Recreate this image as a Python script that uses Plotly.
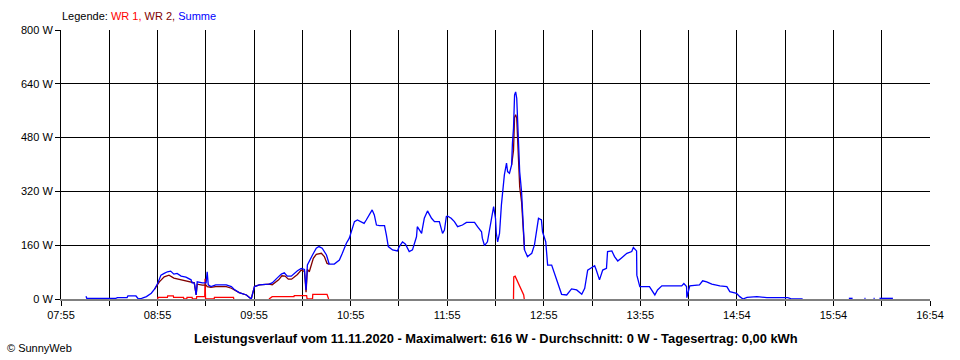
import plotly.graph_objects as go

# ---------------- data ----------------
X_TICK_LABELS = ["07:55", "", "08:55", "", "09:55", "", "10:55", "", "11:55", "",
                 "12:55", "", "13:55", "", "14:54", "", "15:54", "", "16:54"]
X_START = "07:55:00"
X_END = "16:54:00"
Y_TICKS = [0, 160, 320, 480, 640, 800]
Y_TICK_LABELS = ["0 W", "160 W", "320 W", "480 W", "640 W", "800 W"]

# Summe (blue)
summe_time = [
    "08:10:30", "08:11:00", "08:29:00", "08:30:00", "08:36:00", "08:36:30", "08:41:30", "08:43:00",
    "08:45:00", "08:48:00", "08:51:00", "08:53:00", "08:55:00", "08:56:00", "08:57:00", "08:59:00",
    "09:01:00", "09:03:00", "09:05:00", "09:07:00", "09:09:30", "09:12:30", "09:15:40", "09:16:20",
    "09:17:40", "09:18:50", "09:19:30", "09:22:40", "09:25:00", "09:25:40", "09:26:20", "09:28:00",
    "09:31:00", "09:37:30", "09:40:40", "09:42:20", "09:45:30", "09:50:00", "09:53:00", "09:55:00",
    "09:58:00", "10:04:00", "10:06:00", "10:09:00", "10:11:40", "10:13:30", "10:15:20", "10:17:50",
    "10:19:40", "10:21:40", "10:24:00", "10:26:00", "10:27:00", "10:27:50", "10:31:00", "10:33:20",
    "10:35:00", "10:37:00", "10:39:40", "10:41:20", "10:44:30", "10:47:40", "10:49:30", "10:52:00",
    "10:53:50", "10:57:00", "10:58:50", "11:01:20", "11:03:00", "11:04:20", "11:07:30", "11:08:00",
    "11:09:20", "11:10:40", "11:12:30", "11:15:40", "11:16:50", "11:18:00", "11:20:40", "11:23:40",
    "11:24:50", "11:26:50", "11:28:40", "11:31:00", "11:33:00", "11:35:30", "11:36:00", "11:38:40",
    "11:39:00", "11:40:20", "11:42:20", "11:44:50", "11:46:40", "11:49:40", "11:51:40", "11:52:50",
    "11:54:00", "11:54:40", "11:57:00", "11:59:00", "12:01:00", "12:04:00", "12:06:30", "12:11:30",
    "12:13:20", "12:15:50", "12:16:20", "12:17:40", "12:19:30", "12:22:00", "12:23:20", "12:24:30",
    "12:25:00", "12:25:50", "12:27:00", "12:28:10", "12:29:00", "12:30:00", "12:31:20", "12:32:00",
    "12:33:10", "12:34:30", "12:35:00", "12:35:40", "12:36:20", "12:37:00", "12:37:40", "12:38:10",
    "12:38:50", "12:39:30", "12:40:40", "12:41:20", "12:42:00", "12:42:30", "12:44:20", "12:47:00",
    "12:48:40", "12:50:00", "12:51:10", "12:53:00", "12:53:40", "12:55:40", "12:56:50", "12:59:20",
    "13:01:00", "13:04:20", "13:05:30", "13:08:40", "13:11:40", "13:14:50", "13:18:00", "13:19:50",
    "13:21:40", "13:24:00", "13:26:00", "13:27:00", "13:29:00", "13:31:00", "13:33:20", "13:34:00",
    "13:36:40", "13:38:20", "13:40:20", "13:42:50", "13:46:00", "13:49:00", "13:50:00", "13:52:00",
    "13:52:10", "13:54:00", "13:57:00", "14:00:00", "14:03:20", "14:05:00", "14:07:40", "14:12:40",
    "14:20:00", "14:21:20", "14:23:00", "14:23:10", "14:25:00", "14:31:00", "14:33:00", "14:35:30",
    "14:38:40", "14:43:40", "14:48:00", "14:49:50", "14:54:00", "14:56:00", "14:58:00", "15:00:30",
    "15:06:40", "15:12:50", "15:19:00", "15:25:50", "15:28:20", "15:35:00",
    None, "16:03:40", "16:06:00", None, "16:13:20", "16:14:00", None, "16:19:00", "16:19:40",
    None, "16:22:40", "16:31:00",
]
summe_w = [
    8, 2, 2, 4, 4, 9, 9, 0,
    2, 7, 17, 29, 47, 62, 71, 76,
    81, 83, 74, 76, 68, 65, 57, 48,
    48, 12, 51, 48, 48, 81, 42, 37,
    42, 42, 37, 29, 19, 12, 0, 37,
    42, 44, 48, 62, 74, 78, 68, 68,
    76, 84, 91, 88, 27, 101, 131, 151,
    156, 151, 131, 104, 104, 116, 136, 166,
    181, 230, 235, 228, 225, 235, 262, 265,
    250, 220, 218, 218, 190, 156, 146, 143,
    156, 170, 163, 141, 146, 185, 215, 195,
    205, 240, 262, 240, 230, 230, 195, 205,
    245, 247, 240, 230, 215, 220, 228, 228,
    215, 200, 181, 159, 170, 245, 275, 240,
    195, 170, 195, 280, 319, 369, 404, 379,
    374, 399, 463, 508, 607, 616, 597, 547,
    468, 379, 319, 260, 170, 146, 126, 136,
    161, 210, 240, 235, 200, 170, 101, 101,
    76, 27, 14, 12, 30, 27, 14, 32,
    86, 93, 99, 86, 57, 86, 91, 141,
    143, 126, 113, 123, 136, 141, 153, 143,
    71, 37, 37, 37, 12, 27, 39, 39,
    39, 46, 37, 4, 39, 42, 54, 51,
    44, 39, 37, 22, 17, 7, 0, 5,
    7, 4, 5, 4, 0, 0,
    None, 2, 2, None, 2, 2, None, 2, 2,
    None, 2, 2,
]

# WR 1 (red)
wr1_time = [
    "08:55:00", "08:55:10", "09:01:00", "09:01:10", "09:04:40", "09:04:50", "09:11:00", "09:11:10",
    "09:13:00", "09:13:10", "09:16:20", "09:16:30", "09:19:00", "09:19:10", "09:24:10", "09:24:20",
    "09:24:40", "09:30:00", "09:30:10", "09:42:00", "09:42:10", None,
    "10:04:00", "10:06:00", "10:19:30", "10:19:40", "10:27:20", "10:27:40", "10:31:00", "10:31:10",
    "10:40:00", "10:41:00", None,
    "12:35:40", "12:35:50", "12:36:40", "12:38:20", "12:39:50", "12:41:10", "12:42:00", "12:42:20",
]
wr1_w = [
    0, 5, 5, 9, 9, 5, 5, 0,
    0, 5, 5, 0, 0, 7, 7, 60,
    0, 0, 5, 5, 0, None,
    0, 7, 7, 10, 10, 0, 0, 14,
    14, 0, None,
    0, 66, 68, 51, 37, 22, 12, 0,
]

# WR 2 (dark red) - only where it separates from the blue sum line
wr2_time = [
    "08:53:00", "08:55:00", "08:56:00", "08:59:00", "09:02:00", "09:05:00", "09:08:00", "09:13:00",
    "09:16:20", "09:17:40", "09:18:50", "09:19:30", "09:22:40", "09:25:00", "09:25:40", "09:28:00",
    "09:31:00", "09:37:30", "09:40:40", "09:42:20", "09:45:30", "09:50:00", "09:53:00", "09:55:00",
    "09:58:00", "10:04:00", "10:06:00", "10:10:00", "10:12:00", "10:14:00", "10:16:00", "10:18:00",
    "10:21:40", "10:24:00", "10:26:00", "10:27:00", "10:27:50", "10:29:00", "10:31:30", "10:33:20",
    "10:36:30", "10:38:20", "10:40:00", "10:41:20", None,
    "12:34:30", "12:35:40", "12:36:20", "12:37:00", "12:37:40", "12:38:10", "12:38:50", "12:39:30",
    "12:40:40", "12:41:20", "12:42:00", "12:42:30",
]
wr2_w = [
    29, 42, 51, 66, 71, 62, 59, 54,
    51, 48, 12, 44, 41, 41, 37, 35,
    37, 37, 32, 27, 19, 12, 0, 37,
    42, 44, 42, 57, 69, 68, 59, 59,
    73, 86, 82, 20, 88, 81, 121, 133,
    136, 126, 106, 104, None,
    399, 442, 541, 548, 537, 492, 417, 334,
    289, 235, 155, 146,
]

TITLE = "Leistungsverlauf vom 11.11.2020 - Maximalwert: 616 W - Durchschnitt: 0 W - Tagesertrag: 0,00 kWh"


def to_min(t):
    if t is None:
        return None
    h, m, s = (int(p) for p in t.split(":"))
    return h * 60 + m + s / 60.0


FONT = "Liberation Sans, Arial, sans-serif"
x0, x1 = to_min(X_START), to_min(X_END)
n_div = len(X_TICK_LABELS) - 1
tickvals = [x0 + i * (x1 - x0) / n_div for i in range(n_div + 1)]
LW = 1.3

fig = go.Figure()
fig.add_trace(go.Scatter(x=[to_min(t) for t in wr1_time], y=wr1_w, mode="lines",
                         line=dict(color="#FF0000", width=LW), connectgaps=False,
                         hoverinfo="skip", name="WR 1"))
fig.add_trace(go.Scatter(x=[to_min(t) for t in wr2_time], y=wr2_w, mode="lines",
                         line=dict(color="#800000", width=LW), connectgaps=False,
                         hoverinfo="skip", name="WR 2"))
fig.add_trace(go.Scatter(x=[to_min(t) for t in summe_time], y=summe_w, mode="lines",
                         line=dict(color="#0000FF", width=LW), connectgaps=False,
                         hoverinfo="skip", name="Summe"))

fig.update_layout(
    width=960, height=360,
    margin=dict(l=61, r=30, t=30, b=61),
    paper_bgcolor="white", plot_bgcolor="white",
    showlegend=False,
    font=dict(family=FONT, size=11, color="black"),
    xaxis=dict(range=[x0, x1], tickmode="array", tickvals=tickvals, ticktext=X_TICK_LABELS,
               showgrid=True, gridcolor="black", gridwidth=1, zeroline=False,
               showline=True, linecolor="#808080", linewidth=2,
               ticks="outside", ticklen=5, tickcolor="black", tickwidth=1,
               tickfont=dict(family=FONT, size=11, color="black")),
    yaxis=dict(range=[0, 800], tickmode="array", tickvals=Y_TICKS, ticktext=Y_TICK_LABELS,
               showgrid=True, gridcolor="black", gridwidth=1, zeroline=False,
               showline=True, linecolor="black", linewidth=1,
               ticks="outside", ticklen=5, tickcolor="black", tickwidth=1,
               tickfont=dict(family=FONT, size=11, color="black")),
    annotations=[
        dict(xref="paper", yref="paper", x=0, y=1.052, xanchor="left", yanchor="middle",
             xshift=-1, showarrow=False, font=dict(family=FONT, size=11, color="black"),
             text="Legende: <span style='color:#FF0000'>WR 1,</span> "
                  "<span style='color:#800000'>WR 2,</span> "
                  "<span style='color:#0000FF'>Summe</span>"),
        dict(xref="paper", yref="paper", x=0.5, y=-0.145, xanchor="center", yanchor="middle",
             showarrow=False, font=dict(family=FONT, size=12.9, color="black"),
             text="<b>" + TITLE + "</b>"),
        dict(xref="paper", yref="paper", x=-0.0644, y=-0.182, xanchor="left", yanchor="middle",
             showarrow=False, font=dict(family=FONT, size=11, color="black"),
             text="© SunnyWeb"),
    ],
)

fig.write_html("out.html", config={"displayModeBar": False},
               post_script="document.body.style.margin='0';document.body.style.padding='0';")
